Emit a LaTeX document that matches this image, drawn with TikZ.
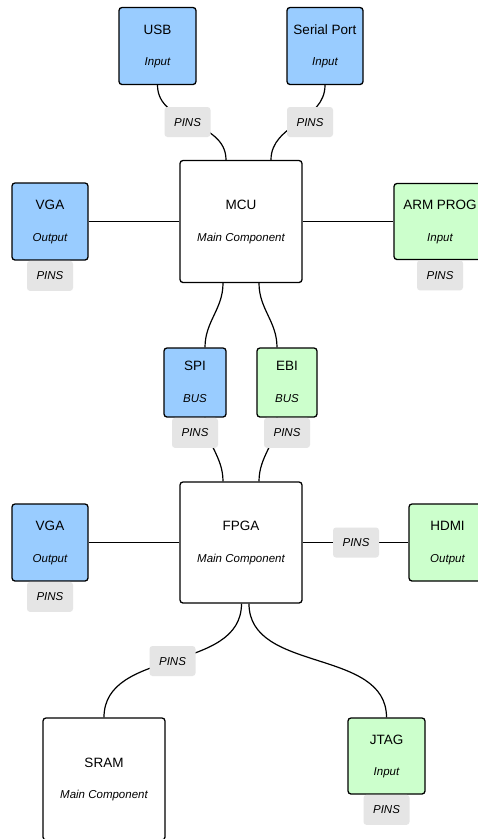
\documentclass[tikz,border=0pt]{standalone}
\usepackage{fontspec}
\setmainfont{Liberation Sans}
\usetikzlibrary{calc,positioning,backgrounds}

\definecolor{inblue}{RGB}{153,204,255}
\definecolor{ingreen}{RGB}{204,255,204}
\definecolor{pinsgrey}{RGB}{229,229,229}

\tikzset{
  unitbox/.style={draw=black, line width=1.3pt, rounded corners=3pt, inner sep=0pt},
  bluebox/.style={unitbox, fill=inblue},
  greenbox/.style={unitbox, fill=ingreen},
  whitebox/.style={unitbox, fill=white},
  ttl/.style={inner sep=0pt, text height=9.6pt, text depth=0pt, font=\fontsize{13.5}{16}\selectfont},
  sub/.style={inner sep=0pt, text height=8.2pt, text depth=0pt, font=\fontsize{11.5}{14}\selectfont\itshape},
  pins/.style={fill=pinsgrey, rounded corners=3pt, minimum width=46pt, minimum height=30pt,
               inner sep=0pt, text height=8.2pt, text depth=0pt,
               font=\fontsize{11.5}{14}\selectfont\itshape},
  wire/.style={draw=black, line width=1.2pt},
  scurve/.style={wire, out=-90, in=90},
}

% a component box with its title and its kind
\newcommand\compbox[8]{% name, style, x, y, width, height, title, kind
  \node[#2, minimum width=#5pt, minimum height=#6pt] (#1) at (#3,#4) {};
  \node[ttl] (#1-title) at ($(#1.center)+(0,-16.5)$) {#7};
  \node[sub] (#1-kind) at ($(#1.center)+(0,15.5)$) {#8};
}

\begin{document}
\begin{tikzpicture}[x=1pt,y=-1pt]
\begin{scope}[on background layer]
  \fill[white] (0,0) rectangle (478,839);
\end{scope}
\useasboundingbox (0,0) rectangle (478,839);

% ---- components
\compbox{usb}{bluebox}{157.5}{46}{77}{77}{USB}{Input}
\compbox{serial}{bluebox}{325}{46}{76}{77}{Serial Port}{Input}
\compbox{vgaA}{bluebox}{50}{221.5}{76}{77}{VGA}{Output}
\compbox{arm}{greenbox}{440}{221.5}{92}{76}{ARM PROG}{Input}
\compbox{mcu}{whitebox}{241}{221.5}{122}{122}{MCU}{Main Component}

\compbox{spi}{bluebox}{195}{382.5}{62}{69}{SPI}{BUS}
\compbox{ebi}{greenbox}{287}{382.5}{60}{69}{EBI}{BUS}

\compbox{vgaB}{bluebox}{50}{542.5}{76}{77}{VGA}{Output}
\compbox{hdmi}{greenbox}{447.5}{542.5}{77}{77}{HDMI}{Output}
\compbox{fpga}{whitebox}{241}{542.5}{122}{121}{FPGA}{Main Component}

\compbox{sram}{whitebox}{104}{779}{122}{122}{SRAM}{Main Component}
\compbox{jtag}{greenbox}{386.5}{756}{77}{76}{JTAG}{Input}

% ---- connectors, kept under the boxes
\begin{scope}[on background layer]
  \draw[wire] (usb.south) to[out=-90,in=90] ([xshift=-15pt]mcu.north);
  \draw[wire] (serial.south) to[out=-90,in=90] ([xshift=30pt]mcu.north);
  \draw[wire] (vgaA.east) -- (mcu.west);
  \draw[wire] (mcu.east) -- (arm.west);

  \draw[wire] ([xshift=-18pt]mcu.south) to[out=-90,in=90] ([xshift=10pt]spi.north);
  \draw[wire] ([xshift=18pt]mcu.south) to[out=-90,in=90] ([xshift=-10pt]ebi.north);
  \draw[wire] ([xshift=10pt]spi.south) to[out=-90,in=90] ([xshift=-18pt]fpga.north);
  \draw[wire] ([xshift=-10pt]ebi.south) to[out=-90,in=90] ([xshift=18pt]fpga.north);

  \draw[wire] (vgaB.east) -- (fpga.west);
  \draw[wire] (fpga.east) -- (hdmi.west);
  \draw[wire] ([xshift=0.5pt]fpga.south) to[out=-90,in=90] (sram.north);
  \draw[wire] ([xshift=8pt]fpga.south) to[out=-90,in=90] (jtag.north);
\end{scope}

% ---- pin labels
\node[pins] (pinsUsb) at (187.5,122) {PINS};
\node[pins] (pinsSerial) at (310,122) {PINS};
\node[pins, below=0pt of vgaA] (pinsVgaA) {PINS};
\node[pins, below=0pt of arm] (pinsArm) {PINS};
\node[pins, below=0pt of spi] (pinsSpi) {PINS};
\node[pins, below=0pt of ebi] (pinsEbi) {PINS};
\node[pins, below=0pt of vgaB] (pinsVgaB) {PINS};
\node[pins] (pinsHdmi) at (356,542.5) {PINS};
\node[pins] (pinsSram) at (172.5,661) {PINS};
\node[pins, below=0pt of jtag] (pinsJtag) {PINS};
\end{tikzpicture}
\end{document}
